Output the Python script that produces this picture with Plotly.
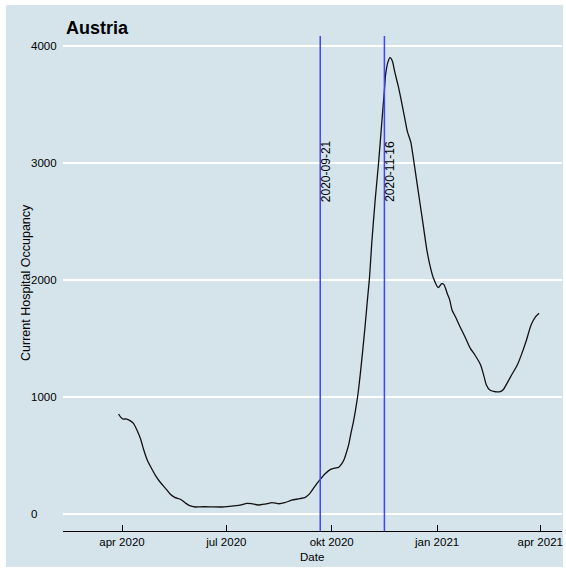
import plotly.graph_objects as go

# ---- data ----
dates = [
    "2020-03-29", "2020-03-31", "2020-04-02", "2020-04-05", "2020-04-08", "2020-04-11",
    "2020-04-14", "2020-04-17", "2020-04-20", "2020-04-23", "2020-04-26", "2020-04-30",
    "2020-05-04", "2020-05-09", "2020-05-13", "2020-05-17", "2020-05-22", "2020-05-26",
    "2020-05-30", "2020-06-04", "2020-06-08", "2020-06-17", "2020-06-26", "2020-07-04",
    "2020-07-13", "2020-07-19", "2020-07-23", "2020-07-29", "2020-08-04", "2020-08-10",
    "2020-08-16", "2020-08-21", "2020-08-27", "2020-09-03", "2020-09-08", "2020-09-12",
    "2020-09-16", "2020-09-21", "2020-09-25", "2020-09-30", "2020-10-04", "2020-10-07",
    "2020-10-10", "2020-10-12", "2020-10-14", "2020-10-16", "2020-10-18", "2020-10-20",
    "2020-10-22", "2020-10-24", "2020-10-26", "2020-10-28", "2020-10-30", "2020-11-01",
    "2020-11-03", "2020-11-05", "2020-11-08", "2020-11-11", "2020-11-14", "2020-11-16",
    "2020-11-17", "2020-11-19", "2020-11-21", "2020-11-23", "2020-11-25", "2020-11-28",
    "2020-12-01", "2020-12-04", "2020-12-06", "2020-12-09", "2020-12-11", "2020-12-14",
    "2020-12-17", "2020-12-20", "2020-12-23", "2020-12-26", "2020-12-29", "2021-01-02",
    "2021-01-05", "2021-01-07", "2021-01-10", "2021-01-12", "2021-01-14", "2021-01-17",
    "2021-01-21", "2021-01-26", "2021-01-30", "2021-02-03", "2021-02-08", "2021-02-11",
    "2021-02-13", "2021-02-16", "2021-02-21", "2021-02-25", "2021-02-28", "2021-03-03",
    "2021-03-07", "2021-03-12", "2021-03-16", "2021-03-20", "2021-03-24", "2021-03-28",
    "2021-03-31",
]
occupancy = [
    855, 826, 812, 812, 798, 775,
    718, 647, 547, 462, 404, 333,
    276, 219, 171, 143, 126, 97,
    71, 60, 62, 62, 60, 66,
    76, 91, 88, 77, 85, 97,
    88, 97, 118, 131, 143, 177,
    233, 296, 342, 382, 393, 399,
    433, 470, 530, 600, 700, 790,
    900, 1030, 1200, 1390, 1590, 1810,
    2020, 2320, 2690, 3010, 3380, 3620,
    3750, 3860, 3900, 3870, 3780, 3660,
    3520, 3370, 3270, 3180, 3060, 2860,
    2660, 2460, 2260, 2115, 2010, 1935,
    1968, 1960, 1880, 1830, 1744, 1686,
    1601, 1500, 1416, 1359, 1274, 1174,
    1103, 1060, 1045, 1045, 1066, 1117,
    1188, 1274, 1373, 1487, 1615, 1686,
    1715,
]
event_dates = ["2020-09-21", "2020-11-16"]
event_label_y = 2650

x_tick_vals = ["2020-04-01", "2020-07-01", "2020-10-01", "2021-01-01", "2021-04-01"]
x_tick_text = ["apr 2020", "jul 2020", "okt 2020", "jan 2021", "apr 2021"]
y_tick_vals = [0, 1000, 2000, 3000, 4000]
y_tick_text = ["0", "1000", "2000", "3000", "4000"]

title_text = "Austria"
x_title = "Date"
y_title = "Current Hospital Occupancy"

# ---- style ----
BG = "#d5e4eb"
FONT = "Liberation Sans, Arial, sans-serif"
W, H = 566, 569
L, R, T, B = 63, 4, 36, 38
pw, ph = W - L - R, H - T - B


def px_x(p):
    return (p - L) / pw


def px_y(p):
    return (H - B - p) / ph


fig = go.Figure()
fig.add_trace(go.Scatter(
    x=dates, y=occupancy, mode="lines",
    line=dict(color="#111111", width=1.3, shape="spline", smoothing=0.6),
    hoverinfo="skip", showlegend=False,
))

shapes = [dict(type="rect", xref="paper", yref="paper",
               x0=px_x(6), x1=px_x(563), y0=px_y(567), y1=px_y(5),
               fillcolor=BG, line=dict(width=0), layer="below")]
annotations = []
for d in event_dates:
    shapes.append(dict(type="line", xref="x", yref="paper", x0=d, x1=d, y0=0, y1=1,
                       line=dict(color="rgb(66,68,250)", width=1.5)))
    annotations.append(dict(x=d, y=event_label_y, xref="x", yref="y", text=d,
                            textangle=-90, xanchor="left", yanchor="bottom", xshift=-3,
                            showarrow=False, font=dict(family=FONT, size=12, color="black")))

for v, t in zip(y_tick_vals, y_tick_text):
    annotations.append(dict(x=px_x(29), y=v, xref="paper", yref="y", text=t,
                            xanchor="left", yanchor="middle", showarrow=False,
                            font=dict(family=FONT, size=11.5, color="black")))

annotations.append(dict(x=px_x(64), y=px_y(28), xref="paper", yref="paper",
                        text="<b>%s</b>" % title_text, xanchor="left", yanchor="middle",
                        showarrow=False, font=dict(family=FONT, size=18, color="black")))
annotations.append(dict(x=px_x(312), y=px_y(557), xref="paper", yref="paper",
                        text=x_title, xanchor="center", yanchor="middle",
                        showarrow=False, font=dict(family=FONT, size=11.5, color="black")))
annotations.append(dict(x=px_x(26), y=px_y(283), xref="paper", yref="paper",
                        text=y_title, textangle=-90, xanchor="center", yanchor="middle",
                        showarrow=False, font=dict(family=FONT, size=12.5, color="black")))

fig.update_layout(
    width=W, height=H,
    margin=dict(l=L, r=R, t=T, b=B, pad=0),
    paper_bgcolor="white", plot_bgcolor=BG,
    shapes=shapes, annotations=annotations,
    showlegend=False,
    xaxis=dict(
        type="date", range=["2020-02-09 12:00", "2021-04-20"],
        tickvals=x_tick_vals, ticktext=x_tick_text,
        showgrid=False, zeroline=False,
        showline=True, linecolor="black", linewidth=1,
        ticks="inside", ticklen=6, tickcolor="black", tickwidth=1,
        tickfont=dict(family=FONT, size=11.5, color="black"),
    ),
    yaxis=dict(
        range=[-145, 4085], tickvals=y_tick_vals, showticklabels=False,
        showgrid=True, gridcolor="white", gridwidth=1.8,
        zeroline=False, showline=False, ticks="",
    ),
)

fig.write_html("out.html")
